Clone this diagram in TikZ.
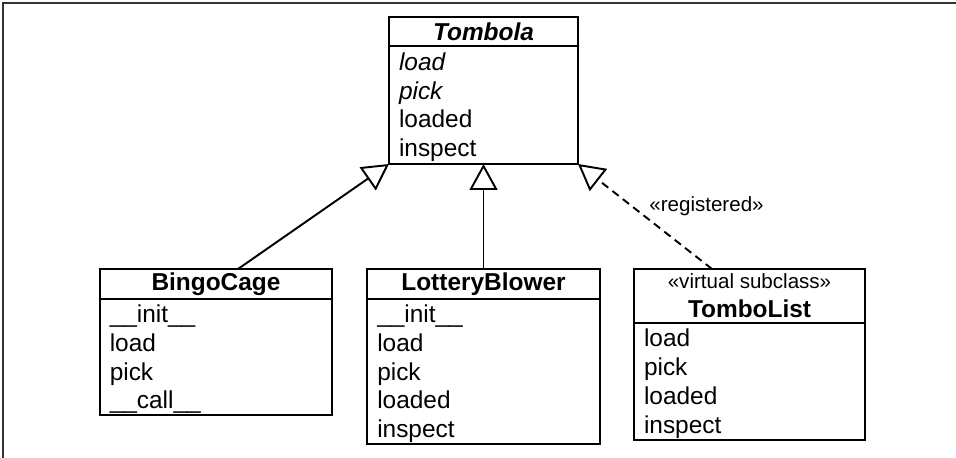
\documentclass[tikz,border=0pt]{standalone}
\usepackage{fontspec}
\setmainfont{Liberation Sans}
\usetikzlibrary{arrows.meta}

\begin{document}
\begin{tikzpicture}[line width=1.1pt,
  head/.style={draw, minimum width=4.65cm, minimum height=0.6cm, inner sep=0pt, outer sep=0pt, anchor=north, align=center, font=\fontsize{13.9}{16.4}\selectfont\bfseries},
  ops/.style={draw, text width=4.25cm, inner xsep=0.2cm, inner ysep=0pt, outer sep=0pt, anchor=north, align=left, font=\fontsize{13.9}{16.4}\selectfont, execute at begin node={\rule{0pt}{12.6pt}}},
  inherit/.style={-{Triangle[open, length=0.52cm, width=0.56cm]}}]
\useasboundingbox (0,0) rectangle (19.12,-9.16);
\draw[line width=0.9pt, black!80] (0.06,-9.16) |- (19.12,-0.06);

\node[head, minimum width=3.78cm, minimum height=0.58cm] (tombola) at (9.67,-0.34) {\itshape Tombola};
\node[ops, text width=3.38cm, minimum height=2.36cm] (tombolaops) at (tombola.south) {\textit{load}\\\textit{pick}\\loaded\\inspect};

\node[head] (bingo) at (4.32,-5.38) {BingoCage};
\node[ops, minimum height=2.32cm] (bingoops) at (bingo.south) {\_\_init\_\_\\load\\pick\\\_\_call\_\_};

\node[head] (lottery) at (9.67,-5.38) {LotteryBlower};
\node[ops, minimum height=2.9cm] (lotteryops) at (lottery.south) {\_\_init\_\_\\load\\pick\\loaded\\inspect};

\node[head, minimum width=4.62cm, minimum height=1.08cm] (tombolist) at (14.99,-5.38) {{\fontsize{11.7}{14}\selectfont\mdseries «virtual subclass»}\\TomboList};
\node[ops, text width=4.22cm, minimum height=2.34cm] (tombolistops) at (tombolist.south) {load\\pick\\loaded\\inspect};

\draw[inherit] ([xshift=0.44cm]bingo.north) -- (tombolaops.south west);
\draw[inherit] (lottery.north) -- (tombolaops.south);
\draw[inherit, dash pattern=on 4.5pt off 3pt] ([xshift=-0.75cm]tombolist.north) -- (tombolaops.south east);
\node[font=\fontsize{11.7}{14}\selectfont] (registered) at (14.13,-4.12) {«registered»};
\end{tikzpicture}
\end{document}
